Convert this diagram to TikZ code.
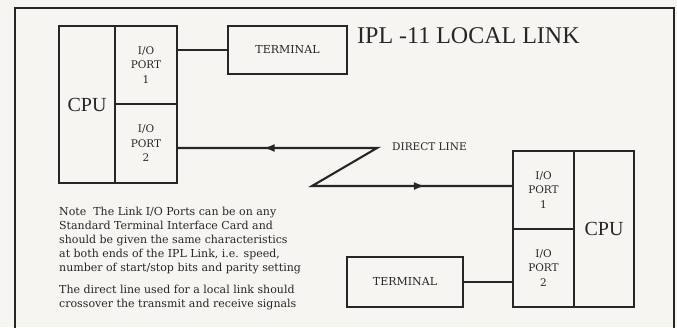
\documentclass[tikz,border=0pt]{standalone}
\usepackage{fontspec}
\setmainfont{Liberation Serif}
\newfontfamily\notefont{DejaVu Serif}
\usetikzlibrary{arrows.meta,calc}
\definecolor{paper}{RGB}{246,245,241}
\definecolor{ink}{RGB}{38,38,38}

\begin{document}
\begin{tikzpicture}[x=1pt,y=-1pt,
  blockbox/.style={draw=ink, line width=2.1pt, inner sep=0pt, text=ink},
  portbox/.style={blockbox, align=center, font={\notefont\fontsize{10.5}{14.5}\selectfont}},
  termbox/.style={blockbox, font={\notefont\fontsize{11}{12}\selectfont}},
  wire/.style={draw=ink, line width=2.1pt},
  tipwire/.style={wire, -{Latex[length=11pt,width=8pt]}},
  notetext/.style={anchor=west, align=left, inner sep=0pt, text=ink, font={\notefont\fontsize{11}{14}\selectfont}}]
\useasboundingbox (0,0) rectangle (677,327);
\fill[paper] (0,0) rectangle (677,327);
\clip (0,0) rectangle (677,327);
\draw[ink, line width=2.4pt] (15,8) rectangle (674,345);
\node[blockbox, minimum width=56, minimum height=157, font={\fontsize{20}{20}\selectfont}] (cpuL) at (87,104.5) {CPU};
\node[portbox, minimum width=62, minimum height=78] (port1L) at (146,65) {I/O\\PORT\\1};
\node[portbox, minimum width=62, minimum height=79] (port2L) at (146,143.5) {I/O\\PORT\\2};
\node[termbox, minimum width=119, minimum height=48] (termL) at (287.5,50) {TERMINAL};
\node[anchor=base west, inner sep=0pt, text=ink, font={\fontsize{24}{24}\selectfont}] (title) at (357,43) {IPL -11 LOCAL LINK};
\node[portbox, minimum width=61, minimum height=78] (port1R) at (543.5,190) {I/O\\PORT\\1};
\node[portbox, minimum width=61, minimum height=78] (port2R) at (543.5,268) {I/O\\PORT\\2};
\node[blockbox, minimum width=60, minimum height=156, font={\fontsize{20}{20}\selectfont}] (cpuR) at (604,229) {CPU};
\node[termbox, minimum width=116, minimum height=50] (termR) at (405,282) {TERMINAL};
\node[anchor=west, inner sep=0pt, text=ink, font={\notefont\fontsize{10.5}{12}\selectfont}] (dlabel) at (392,147) {DIRECT LINE};
\coordinate (zigTop) at (377,148);
\coordinate (zigBot) at (312,186);
\draw[wire] (termL.west) -- (termL.west -| port1L.east);
\draw[wire] (termR.east) -- (termR.east -| port2R.west);
\draw[wire, line join=miter] (port2L.east |- zigTop) -- (zigTop) -- (zigBot) -- (zigBot -| port1R.west);
\draw[tipwire] (zigTop) -- ($(zigTop)!0.57!(port2L.east |- zigTop)$);
\draw[tipwire] (zigBot) -- ($(zigBot)!0.565!(zigBot -| port1R.west)$);
\node[notetext] (noteA) at (59,241) {Note\ \ The Link I/O Ports can be on any\\Standard Terminal Interface Card and\\should be given the same characteristics\\at both ends of the IPL Link, i.e. speed,\\number of start/stop bits and parity setting};
\node[notetext] (noteB) at (59,298) {The direct line used for a local link should\\crossover the transmit and receive signals};
\end{tikzpicture}
\end{document}
